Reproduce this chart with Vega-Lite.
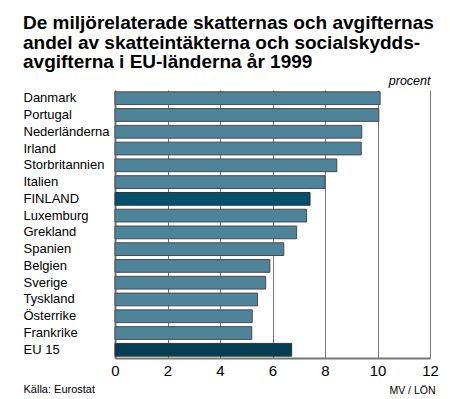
{
  "$schema": "https://vega.github.io/schema/vega-lite/v6.json",
  "autosize": "none",
  "width": 315,
  "height": 268,
  "padding": {"left": 115, "top": 90, "right": 20, "bottom": 41},
  "background": "white",
  "config": {
    "font": "Liberation Sans, Arial, sans-serif",
    "view": {"stroke": null}
  },
  "title": {
    "text": ["De miljörelaterade skatternas och avgifternas", "andel av skatteintäkterna och socialskydds-", "avgifterna i EU-länderna år 1999"],
    "anchor": "start",
    "frame": "group",
    "dx": -92,
    "offset": 2,
    "fontSize": 19,
    "fontWeight": "bold",
    "lineHeight": 19.5,
    "color": "black"
  },
  "data": {
    "values": [
      {"land": "Danmark", "andel": 10.1},
      {"land": "Portugal", "andel": 10.05},
      {"land": "Nederländerna", "andel": 9.4},
      {"land": "Irland", "andel": 9.38},
      {"land": "Storbritannien", "andel": 8.45},
      {"land": "Italien", "andel": 8.0},
      {"land": "FINLAND", "andel": 7.43},
      {"land": "Luxemburg", "andel": 7.3},
      {"land": "Grekland", "andel": 6.92},
      {"land": "Spanien", "andel": 6.43},
      {"land": "Belgien", "andel": 5.9},
      {"land": "Sverige", "andel": 5.74},
      {"land": "Tyskland", "andel": 5.43},
      {"land": "Österrike", "andel": 5.23},
      {"land": "Frankrike", "andel": 5.21},
      {"land": "EU 15", "andel": 6.73}
    ]
  },
  "resolve": {"axis": {"x": "independent", "y": "independent"}},
  "layer": [
    {
      "transform": [{"filter": "datum.land != 'FINLAND' && datum.land != 'EU 15'"}],
      "mark": {"type": "bar", "color": "#4e8499", "stroke": "#4a4a4a", "strokeWidth": 1},
      "encoding": {
        "x": {
          "field": "andel", "type": "quantitative",
          "scale": {"domain": [0, 12], "nice": false},
          "axis": {
            "orient": "bottom", "values": [0, 2, 4, 6, 8, 10, 12], "title": null,
            "grid": true, "gridColor": "#777", "gridWidth": 1,
            "domain": true, "domainColor": "#777", "domainWidth": 2,
            "ticks": false, "labelFlush": false, "labelFontSize": 15, "labelColor": "black",
            "labelPadding": 5
          }
        },
        "y": {
          "field": "land", "type": "nominal", "sort": null,
          "scale": {
            "domain": ["Danmark", "Portugal", "Nederländerna", "Irland", "Storbritannien", "Italien", "FINLAND", "Luxemburg", "Grekland", "Spanien", "Belgien", "Sverige", "Tyskland", "Österrike", "Frankrike", "EU 15"],
            "paddingInner": 0.24, "paddingOuter": 0.11
          },
          "axis": {
            "orient": "left", "ticks": false, "domain": true, "domainColor": "#777", "domainWidth": 2,
            "labelAlign": "left", "labelPadding": 92, "labelFontSize": 13, "labelColor": "black",
            "title": "Källa: Eurostat", "titleAngle": 0, "titleAlign": "left", "titleBaseline": "alphabetic",
            "titleX": -92, "titleY": 302, "titleFontSize": 11, "titleFontWeight": "normal", "titleColor": "black"
          }
        }
      }
    },
    {
      "transform": [{"filter": "datum.land == 'FINLAND' || datum.land == 'EU 15'"}],
      "mark": {"type": "bar", "stroke": "#333", "strokeWidth": 1},
      "encoding": {
        "x": {
          "field": "andel", "type": "quantitative",
          "axis": {
            "orient": "top", "labels": false, "ticks": false, "domain": false, "grid": false,
            "title": "procent", "titleAnchor": "end", "titleAlign": "right", "titleBaseline": "alphabetic",
            "titlePadding": 6, "titleFontSize": 12.5, "titleFontStyle": "italic", "titleFontWeight": "normal", "titleColor": "black"
          }
        },
        "y": {
          "field": "land", "type": "nominal", "sort": null,
          "axis": {
            "orient": "right", "labels": false, "ticks": false, "domain": false, "grid": false,
            "title": "MV / LÖN", "titleAngle": 0, "titleAlign": "right", "titleBaseline": "alphabetic",
            "titleX": 5, "titleY": 303, "titleFontSize": 10.5, "titleFontWeight": "normal", "titleColor": "black"
          }
        },
        "color": {
          "field": "land", "type": "nominal",
          "scale": {"domain": ["FINLAND", "EU 15"], "range": ["#02506b", "#043e53"]},
          "legend": null
        }
      }
    }
  ]
}
